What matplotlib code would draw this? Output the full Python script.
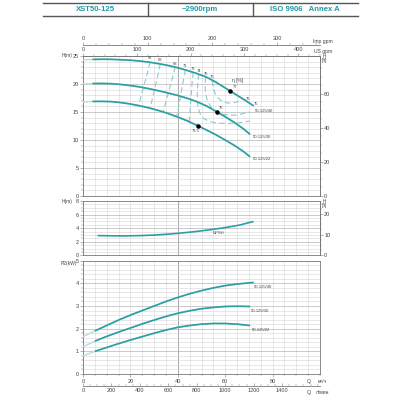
import matplotlib
matplotlib.use('Agg')
import matplotlib.pyplot as plt
from matplotlib.lines import Line2D
from matplotlib.ticker import MultipleLocator, FixedLocator

plt.rcParams['font.family'] = ['Liberation Sans', 'DejaVu Sans']

TEAL = '#2a9ea2'
LIGHT = '#b9e0e1'
DASH = '#8ecbcf'
TXT = '#444444'
GRID = '#d6d6d6'
GRID_MAJ = '#9a9a9a'

# ---------------- data ----------------
header = ['XST50-125', '~2900rpm', 'ISO 9906   Annex A']
models = ['50-125/40', '50-125/30', '50-125/22']

# Head curves (Q m3/h, H m)
q_h40 = [0, 4, 8, 12, 16, 20, 24, 28, 32, 36, 40, 44, 48, 52, 56, 60, 64, 68, 72]
h_40 = [24.3, 24.38, 24.42, 24.4, 24.33, 24.25, 24.1, 23.9, 23.62, 23.3, 22.9, 22.42,
        21.88, 21.25, 20.35, 19.3, 18.25, 17.2, 16.1]
q_h30 = [0, 4, 8, 12, 16, 20, 24, 28, 32, 36, 40, 44, 48, 52, 56.4, 60, 64, 68, 70.5]
h_30 = [20.0, 20.08, 20.1, 20.05, 19.92, 19.72, 19.47, 19.15, 18.78, 18.38, 17.95, 17.45,
        16.85, 16.1, 15.05, 14.15, 13.1, 11.9, 11.0]
q_h22 = [0, 4, 8, 12, 16, 20, 24, 28, 32, 36, 40, 44, 48.7, 52, 56, 60, 64, 68, 70.5]
h_22 = [16.8, 16.88, 16.9, 16.85, 16.68, 16.43, 16.1, 15.72, 15.25, 14.72, 14.1, 13.42,
        12.5, 11.8, 10.95, 10.0, 9.0, 7.85, 7.0]

# Iso-efficiency contours (Q, H)
eff_labels = ['58', '63', '68', '71', '73', '74', '75', '76']
eff_q = [
    [28.3, 27.2, 25.9, 24.6, 23.4],
    [32.6, 31.6, 30.5, 29.4, 28.3],
    [38.9, 37.7, 36.4, 35.1, 33.8],
    [43.2, 42.3, 41.4, 40.5, 39.5],
    [46.5, 46.0, 45.6, 45.2, 44.8],
    [48.9, 48.4, 48.2, 48.4, 49.3, 51.0, 53.5, 57.0, 61.0, 65.5, 70.5],
    [51.7, 51.5, 51.7, 52.5, 54.0, 56.4, 59.0, 62.0, 65.5, 70.5],
    [54.5, 54.9, 55.7, 57.0, 58.8, 61.0, 63.2, 65.3, 67.3],
]
eff_h = [
    [23.95, 22.0, 20.0, 18.0, 16.05],
    [23.6, 21.6, 19.6, 17.6, 15.65],
    [23.05, 21.0, 19.0, 17.0, 14.95],
    [22.55, 20.5, 18.5, 16.3, 14.1],
    [22.1, 20.0, 17.8, 15.5, 13.2],
    [21.75, 20.0, 18.0, 16.2, 14.8, 13.8, 13.3, 13.0, 12.95, 13.05, 13.4],
    [21.2, 19.8, 18.3, 17.0, 15.9, 15.05, 14.6, 14.4, 14.5, 15.0],
    [20.6, 19.5, 18.4, 17.5, 16.9, 16.6, 16.6, 16.85, 17.3],
]
# best efficiency points
bep_q = [62.0, 56.4, 48.7]
bep_h = [18.75, 15.05, 12.5]
bep_lab = ['77', '75', '73.5']
# efficiency marks on the 40 curve (right side)
side_lab = ['76', '75']
side_q = [69.5, 72.8]
side_h = [17.4, 16.5]

# NPSH
q_npsh = [6.5, 12, 18, 24, 30, 36, 42, 48, 54, 60, 66, 71.6]
npsh = [2.9, 2.87, 2.86, 2.9, 2.98, 3.12, 3.3, 3.52, 3.78, 4.08, 4.45, 4.95]

# Power P2 (kW)
q_p40 = [0, 5, 10, 15, 20, 25, 30, 35, 40, 45, 50, 55, 60, 65, 70, 72]
p_40 = [1.65, 1.9, 2.14, 2.38, 2.6, 2.8, 3.0, 3.2, 3.38, 3.54, 3.68, 3.8, 3.9, 3.97, 4.02, 4.04]
q_p30 = [0, 5, 10, 15, 20, 25, 30, 35, 40, 45, 50, 55, 60, 65, 70.5]
p_30 = [1.2, 1.45, 1.66, 1.85, 2.03, 2.21, 2.38, 2.54, 2.68, 2.79, 2.88, 2.94, 2.98, 2.99, 2.98]
q_p22 = [0, 5, 10, 15, 20, 25, 30, 35, 40, 45, 50, 55, 60, 65, 70.5]
p_22 = [0.8, 1.0, 1.17, 1.34, 1.5, 1.65, 1.8, 1.94, 2.06, 2.14, 2.2, 2.23, 2.23, 2.2, 2.14]

# ---------------- figure ----------------
fig = plt.figure(figsize=(4, 4), dpi=100)
fig.patch.set_facecolor('white')


def fx(px):
    return px / 400.0


def fy(py):
    return 1 - py / 400.0


# header table
hl = dict(color='#555555', lw=1.0, transform=fig.transFigure)
fig.add_artist(Line2D([fx(43), fx(358)], [fy(3.3), fy(3.3)], **hl))
fig.add_artist(Line2D([fx(43), fx(358)], [fy(16), fy(16)], **hl))
for xv in (147.7, 253.3):
    fig.add_artist(Line2D([fx(xv), fx(xv)], [fy(3.3), fy(16)], **hl))
for t, xc in zip(header, (95, 200, 305)):
    fig.text(fx(xc), fy(9.8), t, ha='center', va='center', fontsize=5.6,
             fontweight='bold', color='#1d9aa6')

L, W = fx(83), fx(320) - fx(83)
axH = fig.add_axes([L, fy(196), W, (196 - 56) / 400])
axN = fig.add_axes([L, fy(255.3), W, (255.3 - 201) / 400])
axP = fig.add_axes([L, fy(374), W, (374 - 260.7) / 400])


def style(ax, ymax, ystep, ymaj):
    ax.set_xlim(0, 100)
    ax.set_ylim(0, ymax)
    ax.xaxis.set_minor_locator(MultipleLocator(5))
    ax.yaxis.set_minor_locator(MultipleLocator(ystep))
    ax.grid(which='minor', axis='y', color=GRID, lw=0.4)
    for v in range(0, 101, 5):
        ax.axvline(v, color=GRID_MAJ if v == 40 else GRID, lw=0.6 if v == 40 else 0.4, zorder=0)
    k = ymaj
    while k < ymax:
        ax.axhline(k, color='#b5b5b5', lw=0.5, zorder=0)
        k += ymaj
    for s in ax.spines.values():
        s.set_color('#777777')
        s.set_linewidth(0.6)
    ax.tick_params(axis='both', which='major', labelsize=4, length=2, width=0.4,
                   pad=1, colors='#777777', labelcolor=TXT)
    ax.tick_params(axis='both', which='minor', length=1.2, width=0.3, colors='#777777')
    ax.yaxis.set_major_locator(MultipleLocator(ymaj))


def seg(ax, q, v, light_upto=4):
    ax.plot(q, v, color=LIGHT, lw=1.1, zorder=3, solid_capstyle='butt')
    i = next(j for j, qq in enumerate(q) if qq >= light_upto)
    ax.plot(q[i:], v[i:], color=TEAL, lw=1.2, zorder=4, solid_capstyle='butt')


def sec_style(sec, spine, major, minor, direction='out', pad=0.8):
    sec.tick_params(which='major', direction=direction, labelsize=4, length=2, width=0.4,
                    pad=pad, colors='#777777', labelcolor=TXT)
    sec.tick_params(which='minor', direction=direction, length=1.2, width=0.3, colors='#777777')
    sec.spines[spine].set_color('#777777')
    sec.spines[spine].set_linewidth(0.6)


# ---- Head panel ----
style(axH, 25, 1, 5)
axH.tick_params(axis='x', which='both', bottom=False, labelbottom=False)
for q, h in zip([q_h40, q_h30, q_h22], [h_40, h_30, h_22]):
    seg(axH, q, h)
for lab, q, h in zip(eff_labels, eff_q, eff_h):
    axH.plot(q, h, color=DASH, lw=0.8, ls=(0, (5, 3)), zorder=2)
    axH.text(q[0], h[0] + 0.25, lab, fontsize=2.9, color=TXT, ha='center', va='bottom', zorder=5)
axH.scatter(bep_q, bep_h, s=5, color='black', zorder=6)
axH.text(bep_q[0] + 1.0, bep_h[0] + 0.3, bep_lab[0], fontsize=2.9, color=TXT, ha='left', va='bottom')
axH.text(bep_q[1] + 0.8, bep_h[1] + 0.3, bep_lab[1], fontsize=2.9, color=TXT, ha='left', va='bottom')
axH.text(bep_q[2] - 1.2, bep_h[2] - 0.5, bep_lab[2], fontsize=2.9, color=TXT, ha='center', va='top')
for lab, q, h in zip(side_lab, side_q, side_h):
    axH.text(q, h, lab, fontsize=2.9, color=TXT, ha='center', va='center')
axH.text(65.4, 20.7, 'η [%]', fontsize=3.5, color=TXT, ha='center', va='center')
for lab, q, h in zip(models, [72.6, 71.7, 71.7], [15.1, 10.5, 6.55]):
    axH.text(q, h, lab, fontsize=3, color=TXT, ha='left', va='center')

secUS = axH.secondary_xaxis('top', functions=(lambda x: x * 4.4029, lambda x: x / 4.4029))
secUS.xaxis.set_major_locator(FixedLocator([0, 100, 200, 300, 400]))
secUS.xaxis.set_minor_locator(MultipleLocator(20))
sec_style(secUS, 'top', None, None)

secImp = axH.secondary_xaxis(1 + 11 / 140, functions=(lambda x: x * 3.6662, lambda x: x / 3.6662))
secImp.xaxis.set_major_locator(FixedLocator([0, 100, 200, 300]))
secImp.xaxis.set_minor_locator(MultipleLocator(20))
sec_style(secImp, 'top', None, None)

ftH = axH.secondary_yaxis('right', functions=(lambda m: m * 3.2808, lambda f: f / 3.2808))
ftH.yaxis.set_major_locator(FixedLocator([0, 20, 40, 60]))
ftH.yaxis.set_minor_locator(MultipleLocator(5))
sec_style(ftH, 'right', None, None, pad=1)

fig.text(fx(313), fy(41.5), 'Imp gpm', fontsize=3.6, color=TXT, ha='left', va='center')
fig.text(fx(314), fy(51.7), 'US gpm', fontsize=3.6, color=TXT, ha='left', va='center')
fig.text(fx(324), fy(56.5), 'H', fontsize=3.3, color=TXT, ha='center', va='center')
fig.text(fx(324), fy(60.5), '[ft]', fontsize=3.3, color=TXT, ha='center', va='center')
fig.text(fx(67.5), fy(55.5), 'H(m)', fontsize=3.6, color=TXT, ha='center', va='center')

# ---- NPSH panel ----
style(axN, 8, 0.5, 2)
axN.tick_params(axis='x', which='both', bottom=False, labelbottom=False)
axN.plot(q_npsh, npsh, color=TEAL, lw=1.2, zorder=4)
axN.text(54.9, 3.26, 'NPSH', fontsize=3, color=TXT, ha='left', va='center')
ftN = axN.secondary_yaxis('right', functions=(lambda m: m * 3.2808, lambda f: f / 3.2808))
ftN.yaxis.set_major_locator(FixedLocator([0, 10, 20]))
ftN.yaxis.set_minor_locator(MultipleLocator(2.5))
sec_style(ftN, 'right', None, None, pad=1)
fig.text(fx(67), fy(201.5), 'H(m)', fontsize=3.6, color=TXT, ha='center', va='center')
fig.text(fx(324), fy(201.5), 'H', fontsize=3.3, color=TXT, ha='center', va='center')
fig.text(fx(324), fy(205.5), '[ft]', fontsize=3.3, color=TXT, ha='center', va='center')

# ---- Power panel ----
style(axP, 5, 0.2, 1)
for q, p in zip([q_p40, q_p30, q_p22], [p_40, p_30, p_22]):
    seg(axP, q, p, light_upto=5)
for lab, q, p in zip(models, [72.2, 70.9, 71.2], [3.85, 2.79, 1.94]):
    axP.text(q, p, lab, fontsize=3, color=TXT, ha='left', va='center')
axP.xaxis.set_major_locator(FixedLocator([0, 20, 40, 60, 80]))
axP.tick_params(axis='x', which='major', pad=1.5)
fig.text(fx(69), fy(263.3), 'P2(kW)', fontsize=3.6, color=TXT, ha='center', va='center')

secL = axP.secondary_xaxis(-(386 - 374) / 113.3,
                           functions=(lambda x: x * 1000 / 60, lambda x: x * 60 / 1000))
secL.xaxis.set_major_locator(FixedLocator([0, 200, 400, 600, 800, 1000, 1200, 1400]))
secL.xaxis.set_minor_locator(MultipleLocator(50))
sec_style(secL, 'bottom', None, None, direction='in', pad=1.5)

fig.text(fx(309), fy(381.5), 'Q', fontsize=3.8, color=TXT, ha='center', va='center')
fig.text(fx(322), fy(381.5), 'м³/ч', fontsize=3.6, color=TXT, ha='center', va='center')
fig.text(fx(309), fy(392.7), 'Q', fontsize=3.8, color=TXT, ha='center', va='center')
fig.text(fx(323), fy(392.7), 'л/мин', fontsize=3.6, color=TXT, ha='center', va='center')

fig.savefig('out.png', dpi=100, facecolor='white')
